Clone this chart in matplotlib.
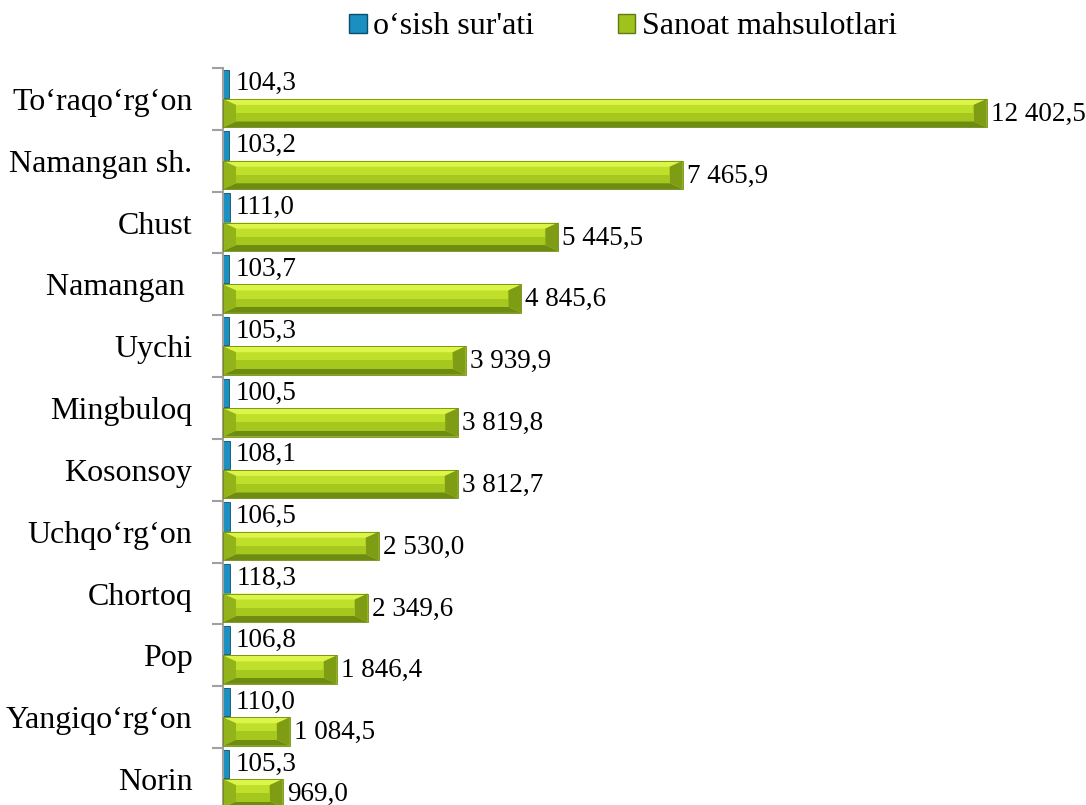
import matplotlib
matplotlib.use('Agg')
import matplotlib.pyplot as plt
from matplotlib.patches import Polygon, Rectangle

plt.rcParams['font.family'] = ['Liberation Serif', 'DejaVu Serif']

# 데이터
tumanlar = ['To‘raqo‘rg‘on', 'Namangan sh.', 'Chust', 'Namangan ', 'Uychi', 'Mingbuloq',
            'Kosonsoy', 'Uchqo‘rg‘on', 'Chortoq', 'Pop', 'Yangiqo‘rg‘on', 'Norin']
osish = [104.3, 103.2, 111.0, 103.7, 105.3, 100.5, 108.1, 106.5, 118.3, 106.8, 110.0, 105.3]
sanoat = [12402.5, 7465.9, 5445.5, 4845.6, 3939.9, 3819.8, 3812.7, 2530.0, 2349.6, 1846.4, 1084.5, 969.0]


def fmt(v):
    s = '{:,.1f}'.format(v)
    return s.replace(',', ' ').replace('.', ',')


W, H = 1086, 805
fig = plt.figure(figsize=(W / 100, H / 100), dpi=100)
ax = fig.add_axes([223 / W, 1 - 810 / H, (1085 - 223) / W, (810 - 68) / H])

n = len(tumanlar)
pos = list(range(n))
xmax = 14000
ax.set_xlim(0, xmax)
ax.set_ylim(n - 0.5, -0.5)

h = 0.46
blue_y = [p - 0.245 for p in pos]
green_y = [p + 0.23 for p in pos]
bb = ax.barh(blue_y, osish, height=h, color='#1a8fc0', edgecolor='#0b4f70', linewidth=0.6, zorder=2)
gb = ax.barh(green_y, sanoat, height=h, color='#bfe02a', edgecolor='none', zorder=2)

# 픽셀 -> 데이터 단위
ppx = (1085 - 223) / xmax
ppy = (810 - 68) / n


def bevel(rect, light, dark, side_l, side_r, bx=13, by=6):
    x0 = rect.get_x()
    w = rect.get_width()
    x1 = x0 + w
    yt = rect.get_y()
    yb = yt + rect.get_height()
    dx = min(bx / ppx, w / 2)
    dy = by / ppy
    faces = [
        ([(x0, yt), (x1, yt), (x1 - dx, yt + dy), (x0 + dx, yt + dy)], light),
        ([(x0, yb), (x1, yb), (x1 - dx, yb - dy), (x0 + dx, yb - dy)], dark),
        ([(x0, yt), (x0 + dx, yt + dy), (x0 + dx, yb - dy), (x0, yb)], side_l),
        ([(x1, yt), (x1 - dx, yt + dy), (x1 - dx, yb - dy), (x1, yb)], side_r),
    ]
    for pts, c in faces:
        ax.add_patch(Polygon(pts, closed=True, facecolor=c, edgecolor='none', zorder=3))
    # 가운데 아래쪽 약간 어둡게
    ax.add_patch(Rectangle((x0 + dx, (yt + yb) / 2), w - 2 * dx, (yb - yt) / 2 - dy,
                           facecolor='#a6c81e', edgecolor='none', zorder=3))
    ax.add_patch(Rectangle((x0, yt), w, yb - yt, facecolor='none', edgecolor='#6d8a10',
                           linewidth=0.6, zorder=4))


for r in gb:
    bevel(r, '#dcf548', '#6f8c12', '#92b41a', '#7e9c14')

# 값 레이블
for y, v in zip(blue_y, osish):
    ax.text(v + 6 / ppx, y, fmt(v), va='center', ha='left', fontsize=19.5, zorder=5)
for y, v in zip(green_y, sanoat):
    ax.text(v + 4 / ppx, y + 0.02, fmt(v), va='center', ha='left', fontsize=19.5, zorder=5)

# 축
for s in ['top', 'right', 'bottom']:
    ax.spines[s].set_visible(False)
ax.spines['left'].set_color('#a0a0a0')
ax.spines['left'].set_linewidth(1.5)
ax.set_xticks([])
ax.set_yticks([p - 0.5 for p in pos] + [n - 0.5], minor=True)
ax.set_yticks(pos)
ax.set_yticklabels(tumanlar, fontsize=23)
ax.tick_params(axis='y', which='major', length=0, pad=22)
ax.tick_params(axis='y', which='minor', length=8, width=1.5, color='#a0a0a0')

# 범례
lh = [Rectangle((0, 0), 1, 1, facecolor='#1a8fc0', edgecolor='#0b4f70'),
      Rectangle((0, 0), 1, 1, facecolor='#9fc21d', edgecolor='#5f7a0e')]
fig.legend(lh, ['o‘sish sur\'ati', 'Sanoat mahsulotlari'], loc='center',
           bbox_to_anchor=(623 / W, 1 - 27 / H), ncol=2, frameon=False, fontsize=23,
           handlelength=0.55, handleheight=0.55, handletextpad=0.2, columnspacing=2.6)

fig.savefig('out.png', dpi=100)
